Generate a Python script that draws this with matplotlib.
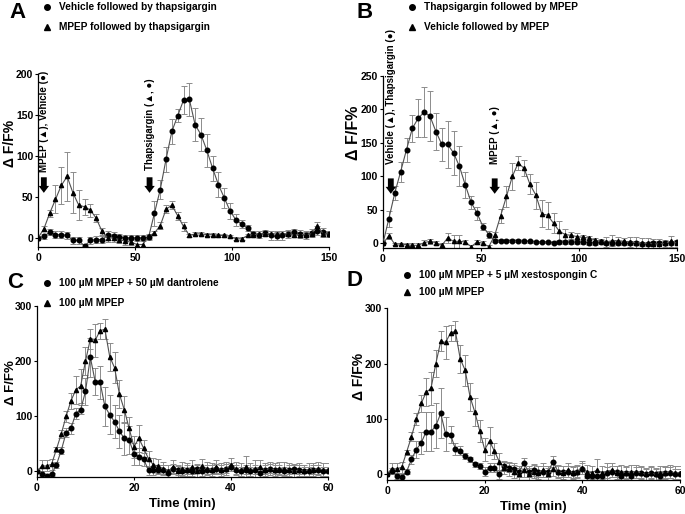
import numpy as np
import matplotlib
matplotlib.use('Agg')
import matplotlib.pyplot as plt
from matplotlib.lines import Line2D

plt.rcParams['font.family'] = ['Liberation Sans', 'DejaVu Sans']
plt.rcParams['font.weight'] = 'bold'
plt.rcParams['axes.labelweight'] = 'bold'

# ---------------- DATA ----------------
# Panels A and B: one point every 3 min, 0..150
time_ab = list(range(0, 151, 3))

a_vehicle = [0, 2, 7, 4, 4, 3, -3, -3, -10, -3, -2, -2, 3, 2, 1, 0, 0, 0, 0, 1,
             30, 59, 96, 130, 149, 168, 169, 138, 126, 107, 85, 65, 49, 33, 22, 17, 12,
             5, 4, 6, 3, 2, 3, 5, 7, 5, 4, 6, 9, 7, 5]
a_vehicle_err = [0, 3, 4, 4, 4, 4, 4, 4, 3, 4, 4, 4, 5, 5, 4, 3, 3, 3, 3, 3,
                 15, 12, 15, 15, 8, 17, 20, 20, 20, 20, 15, 15, 12, 10, 7, 5, 4,
                 4, 4, 4, 5, 5, 5, 5, 4, 5, 5, 5, 5, 5, 4]
a_mpep = [0, 11, 30, 47, 64, 75, 55, 40, 38, 34, 24, 8, 0, 0, -2, -4, -5, -8, -8, 2,
          6, 15, 35, 40, 27, 14, 3, 5, 5, 4, 4, 3, 3, 2, -1, -1, 3,
          4, 5, 5, 5, 5, 5, 5, 4, 4, 4, 5, 15, 5, 5]
a_mpep_err = [0, 3, 4, 17, 23, 30, 25, 18, 10, 8, 5, 4, 5, 5, 4, 4, 4, 4, 4, 3,
              3, 4, 5, 5, 5, 5, 2, 2, 2, 2, 2, 2, 2, 2, 2, 2, 2,
              3, 3, 3, 3, 3, 3, 3, 3, 3, 3, 3, 4, 4, 4]

b_thapsi = [0, 37, 75, 107, 140, 172, 187, 196, 190, 167, 148, 148, 135, 115, 87, 61, 45, 25, 13,
            4, 4, 4, 4, 4, 3, 3, 2, 2, 2, 1, 2, 2, 2, 2, 2, 1, 1, 2, 1, 1, 0, 0, 0, 0,
            -1, -1, 0, 0, 0, 1, 2]
b_thapsi_err = [0, 12, 10, 15, 18, 20, 28, 37, 37, 28, 25, 35, 33, 30, 20, 10, 10, 5, 5,
                2, 2, 2, 2, 2, 2, 2, 2, 2, 2, 2, 3, 3, 3, 3, 3, 3, 3, 3, 3, 3, 3, 3, 3, 3,
                3, 3, 3, 3, 3, 3, 3]
b_vehicle = [0, 11, -1, -1, -2, -3, -3, 1, 3, 1, -3, 8, 3, 3, 2, -5, 2, 0, -5,
             12, 41, 70, 100, 120, 112, 88, 72, 44, 42, 30, 18, 13, 12, 10, 9, 8, 5,
             3, 2, 4, 4, 3, 2, 1, 0, 0, -1, -1, 0, 3, 0]
b_vehicle_err = [0, 5, 2, 2, 2, 3, 3, 4, 4, 3, 3, 8, 10, 10, 3, 3, 3, 3, 3,
                 5, 10, 15, 20, 10, 12, 15, 20, 20, 20, 15, 15, 8, 5, 5, 3, 3, 3,
                 3, 8, 8, 5, 5, 8, 8, 8, 8, 8, 8, 5, 8, 5]

# Panels C and D: one point every minute, 0..60
time_cd = list(range(0, 61))

c_dantrolene = [0, -5, -8, -5, 12, 38, 70, 78, 105, 112, 145, 207, 163, 162, 118, 103, 90,
                73, 60, 57, 32, 27, 22,
                2, 2, 3, 3, -3, 5, 2, 0, 3, 0, 5, 0, 3, 3, 5, 3, 5, 8, 3, 0, 3, 0, 3, -3,
                3, 5, 3, 3, 0, 3, 5, 3, 0, 0, 3, 3, 0, 0]
c_dantrolene_err = [0, 3, 3, 3, 5, 6, 8, 10, 10, 8, 25, 35, 25, 30, 35, 35, 30,
                    30, 30, 25, 20, 15, 12,
                    8, 8, 8, 8, 8, 8, 8, 8, 8, 8, 8, 8, 8, 8, 8, 8, 8, 8, 8, 8, 8, 8, 8, 8,
                    8, 8, 8, 8, 8, 8, 8, 8, 8, 8, 8, 8, 8, 8]
mpep_ctrl = [0, 10, 10, 13, 40, 68, 100, 128, 148, 155, 200, 240, 238, 255, 258, 208, 188,
             140, 112, 78, 45, 60, 42, 23,
             12, 10, 5, 0, 8, 0, 5, 3, 8, 0, 10, 5, 3, 8, 3, 5, 12, 5, 3, 8, 3, 5, 8,
             3, 5, 3, 5, 5, 3, 0, 3, 0, 3, 3, 5, 3, 3]
mpep_ctrl_err = [0, 10, 10, 10, 5, 8, 10, 15, 25, 30, 25, 18, 30, 15, 18, 25, 28,
                 25, 25, 20, 20, 25, 15, 15,
                 12, 12, 12, 12, 12, 12, 12, 12, 12, 12, 12, 12, 12, 12, 12, 12, 12, 12, 12, 20, 12,
                 15, 12, 12, 12, 12, 12, 12, 12, 12, 12, 12, 12, 12, 12, 12, 12]
d_xesto = [0, 7, -3, -5, 5, 27, 45, 57, 77, 77, 88, 110, 73, 72, 46, 43, 33, 27, 18, 15,
           5, 12, 12, 0, 15, 12, 10, 5, 20, 5, 8, 5, 5, 5, 23, 5, 5, 5, 3, 5, 10,
           -3, -3, -3, -3, 3, 5, 5, -3, 3, -3, 3, 3, 0, 3, 0, -3, 3, 3, 0, 0]
d_xesto_err = [0, 5, 5, 5, 5, 8, 15, 20, 35, 35, 40, 45, 30, 15, 10, 8, 6, 5, 5, 5,
               8, 8, 8, 8, 8, 8, 10, 10, 10, 10, 10, 10, 10, 10, 10, 10, 10, 10, 10, 10, 10,
               10, 10, 10, 10, 10, 10, 10, 10, 10, 10, 10, 10, 10, 10, 10, 10, 10, 10, 10, 10]

W, H = 685, 514
LINE_C = '#505050'
ERR_C = '#8c8c8c'


def px(x, y):
    # pixel (from top-left) -> figure fraction
    return x / W, 1 - y / H


def series(ax, x, y, err, marker, ms):
    ax.errorbar(x, y, yerr=err, fmt='none', ecolor=ERR_C, elinewidth=0.7,
                capsize=2, capthick=0.7, zorder=2)
    ax.plot(x, y, color=LINE_C, lw=0.8, marker=marker, ms=ms,
            mfc='black', mec='black', zorder=3)


def style_axes(ax, xlim, ylim, xticks, yticks, lab_size, lab_x, lab_y):
    ax.set_xlim(*xlim)
    ax.set_ylim(*ylim)
    ax.set_xticks(xticks)
    ax.set_yticks(yticks)
    for s in ['top', 'right']:
        ax.spines[s].set_visible(False)
    for s in ['left', 'bottom']:
        ax.spines[s].set_linewidth(0.9)
    ax.tick_params(direction='out', length=2.5, width=0.8, labelsize=7.5, pad=1)
    ax.tick_params(axis='x', pad=1.5)
    ax.set_ylabel('\u0394 F/F%', fontsize=lab_size)
    ax.yaxis.set_label_coords(lab_x, lab_y)


def legend(fig, x, y1, y2, text1, text2):
    fig.add_artist(Line2D([px(x, y1)[0]], [px(x, y1)[1]], marker='o', ms=4,
                          color='black', ls='none'))
    fig.add_artist(Line2D([px(x, y2)[0]], [px(x, y2)[1]], marker='^', ms=4,
                          color='black', ls='none'))
    fig.text(*px(x + 12, y1), text1, fontsize=7.3, va='center', ha='left')
    fig.text(*px(x + 12, y2), text2, fontsize=7.3, va='center', ha='left')


def drug_mark(ax, x, y_text, y_top, y_tip, label):
    ax.text(x, y_text, label, rotation=90, ha='center', va='bottom',
            fontsize=7, clip_on=False)
    ax.annotate('', xy=(x, y_tip), xytext=(x, y_top), annotation_clip=False,
                arrowprops=dict(arrowstyle='simple,head_width=0.75,head_length=0.5,tail_width=0.42',
                                color='black', lw=0, shrinkA=0, shrinkB=0,
                                mutation_scale=10))


fig = plt.figure(figsize=(6.85, 5.14), dpi=100)

axA = fig.add_axes([0.0555, 0.5195, 0.4248, 0.3366])
axB = fig.add_axes([0.5591, 0.5175, 0.4292, 0.3346])
axC = fig.add_axes([0.054, 0.072, 0.4248, 0.3327])
axD = fig.add_axes([0.565, 0.0661, 0.4277, 0.3346])

# ---- A ----
series(axA, time_ab, a_vehicle, a_vehicle_err, 'o', 3.3)
series(axA, time_ab, a_mpep, a_mpep_err, '^', 3.0)
style_axes(axA, (0, 150), (-11, 200), [0, 50, 100, 150], [0, 50, 100, 150, 200],
           10, -0.073, 0.60)
drug_mark(axA, 3, 80, 74, 55, 'MPEP (\u25b2), Vehicle (\u25cf)')
drug_mark(axA, 57.5, 83, 74, 55, 'Thapsigargin (\u25b2, \u25cf)')

# ---- B ----
series(axB, time_ab, b_thapsi, b_thapsi_err, 'o', 3.3)
series(axB, time_ab, b_vehicle, b_vehicle_err, '^', 3.0)
style_axes(axB, (0, 150), (-7, 250), [0, 50, 100, 150], [0, 50, 100, 150, 200, 250],
           11.5, -0.075, 0.67)
drug_mark(axB, 4, 119, 97, 74, 'Vehicle (\u25b2), Thapsigargin (\u25cf)')
drug_mark(axB, 57, 119, 97, 74, 'MPEP (\u25b2, \u25cf)')

# ---- C ----
series(axC, time_cd, c_dantrolene, c_dantrolene_err, 'o', 3.3)
series(axC, time_cd, mpep_ctrl, mpep_ctrl_err, '^', 3.0)
style_axes(axC, (0, 60), (-10, 300), [0, 20, 40, 60], [0, 100, 200, 300],
           9.5, -0.07, 0.55)
axC.set_xlabel('Time (min)', fontsize=9.5, labelpad=4)

# ---- D ----
series(axD, time_cd, d_xesto, d_xesto_err, 'o', 3.3)
series(axD, time_cd, mpep_ctrl, mpep_ctrl_err, '^', 3.0)
style_axes(axD, (0, 60), (-10, 300), [0, 20, 40, 60], [0, 100, 200, 300],
           10, -0.072, 0.60)
axD.set_xlabel('Time (min)', fontsize=9.5, labelpad=4)

# panel letters
for (x, y), letter in zip([(17, 12), (365, 12), (15, 282), (355, 281)], 'ABCD'):
    fig.text(*px(x, y), letter, fontsize=16, ha='center', va='center')

# legends
legend(fig, 47, 7, 27, 'Vehicle followed by thapsigargin', 'MPEP followed by thapsigargin')
legend(fig, 412, 7, 27, 'Thapsigargin followed by MPEP', 'Vehicle followed by MPEP')
legend(fig, 47, 283, 303, '100 \u00b5M MPEP + 50 \u00b5M dantrolene', '100 \u00b5M MPEP')
legend(fig, 407, 275, 292, '100 \u00b5M MPEP + 5 \u00b5M xestospongin C', '100 \u00b5M MPEP')

fig.savefig('out.png', dpi=100)
